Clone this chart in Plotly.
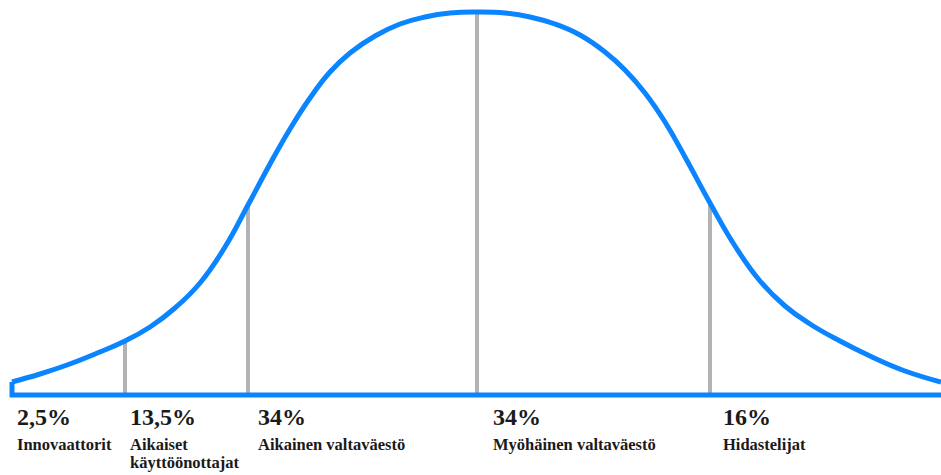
import plotly.graph_objects as go

# Curve: horizontal position and height above baseline
curve_x = [12, 40, 67, 95, 125, 150, 175, 200, 225, 248, 270, 290, 310, 330, 350, 375, 400, 425, 450, 477,
           505, 530, 555, 580, 605, 625, 645, 665, 685, 710, 735, 760, 785, 810, 840, 870, 905, 941]
curve_h = [13, 21, 30, 41, 54, 68, 87, 112, 148, 190, 231, 266, 297, 323, 342, 359, 371, 378, 382, 383,
           382, 378, 371, 360, 343, 325, 302, 273, 238, 192, 149, 114, 89, 71, 54, 39, 24, 13]

# Divider lines (position, height)
div_x = [125, 248, 477, 710]
div_h = [54, 190, 383, 192]

# Segment labels
seg_x = [17, 130, 258, 493, 723]
seg_pct = ["2,5%", "13,5%", "34%", "34%", "16%"]
seg_name1 = ["Innovaattorit", "Aikaiset", "Aikainen valtaväestö",
             "Myöhäinen valtaväestö", "Hidastelijat"]
seg_name2 = ["", "käyttöönottajat", "", "", ""]

BLUE = "#0a85ff"
GRAY = "#b3b3b3"
TXT = "#1a1a1a"
FONT = "Liberation Serif"

fig = go.Figure()

for x, h in zip(div_x, div_h):
    fig.add_trace(go.Scatter(x=[x, x], y=[0, h], mode="lines",
                             line=dict(color=GRAY, width=4), hoverinfo="skip"))

fig.add_trace(go.Scatter(x=[curve_x[0], curve_x[0], 960], y=[curve_h[0], 0, 0], mode="lines",
                         line=dict(color=BLUE, width=5), hoverinfo="skip"))
fig.add_trace(go.Scatter(x=curve_x, y=curve_h, mode="lines",
                         line=dict(color=BLUE, width=5, shape="spline", smoothing=1.3),
                         hoverinfo="skip"))

for x, p, n1, n2 in zip(seg_x, seg_pct, seg_name1, seg_name2):
    fig.add_annotation(x=x, y=-22, text=f"<b>{p}</b>", showarrow=False, xanchor="left",
                       yanchor="middle", xshift=-2,
                       font=dict(family=FONT, size=24, color=TXT))
    fig.add_annotation(x=x, y=-49, text=f"<b>{n1}</b>", showarrow=False, xanchor="left",
                       yanchor="middle", xshift=-2,
                       font=dict(family=FONT, size=16.5, color=TXT))
    if n2:
        fig.add_annotation(x=x, y=-67, text=f"<b>{n2}</b>", showarrow=False, xanchor="left",
                           yanchor="middle", xshift=-2,
                           font=dict(family=FONT, size=16.5, color=TXT))

fig.update_layout(
    width=941, height=475, margin=dict(l=0, r=0, t=0, b=0),
    paper_bgcolor="white", plot_bgcolor="white", showlegend=False,
    xaxis=dict(range=[0, 941], visible=False, fixedrange=True),
    yaxis=dict(range=[-80, 395], visible=False, fixedrange=True),
)

fig.write_html("out.html")
